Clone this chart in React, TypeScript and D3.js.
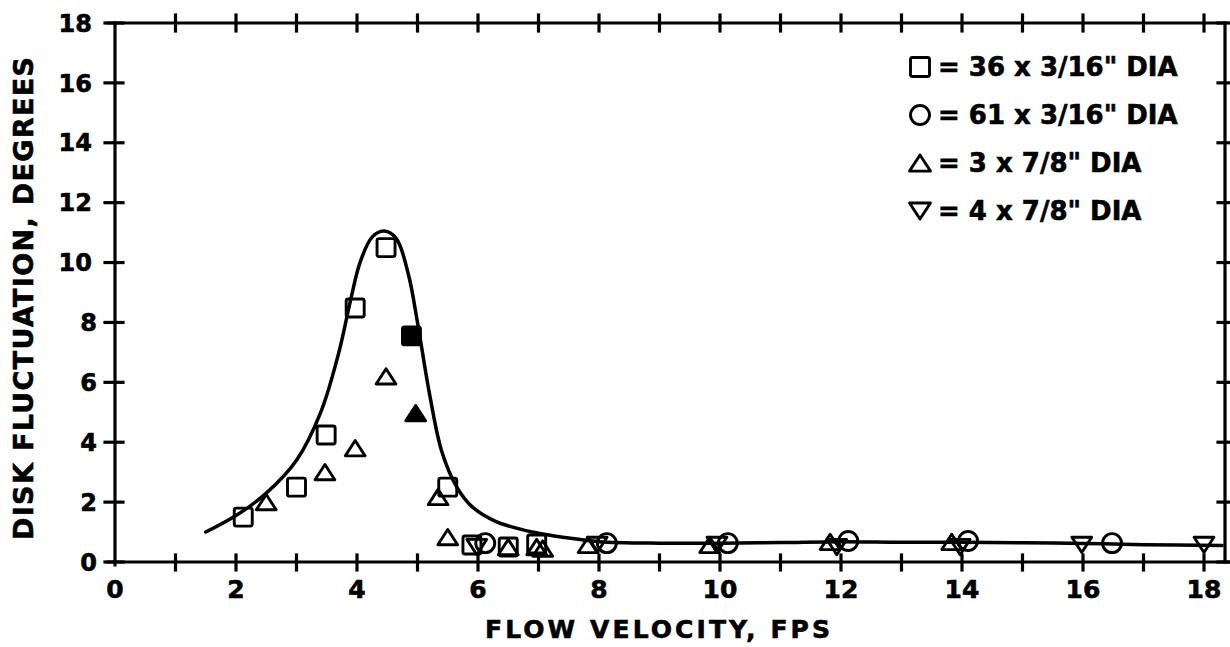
import React from "react";
import * as d3 from "d3";

// ---- data ----
const squareX = [2.12, 3.0, 3.49, 3.97, 4.48, 5.5, 5.9, 6.5, 6.97];
const squareY = [1.5, 2.5, 4.24, 8.48, 10.5, 2.5, 0.57, 0.5, 0.6];
const filledSquareX = [4.9];
const filledSquareY = [7.55];

const circleX = [6.12, 8.13, 10.13, 12.12, 14.1, 16.48];
const circleY = [0.63, 0.63, 0.63, 0.7, 0.7, 0.63];

const triangleX = [2.5, 3.47, 3.97, 4.48, 5.34, 5.5, 6.5, 6.97, 7.07, 7.82, 9.83, 11.82, 13.83];
const triangleY = [2.0, 3.0, 3.8, 6.2, 2.17, 0.83, 0.5, 0.5, 0.45, 0.57, 0.57, 0.67, 0.67];
const filledTriangleX = [4.97];
const filledTriangleY = [4.97];

const invTriangleX = [5.98, 7.97, 9.95, 11.93, 13.97, 15.98, 18.0];
const invTriangleY = [0.5, 0.57, 0.57, 0.5, 0.5, 0.57, 0.57];

const curveX = [1.5, 2.0, 2.5, 3.0, 3.4, 3.7, 3.9, 4.05, 4.25, 4.45, 4.65, 4.85, 5.0, 5.2, 5.4, 5.65, 5.9, 6.3, 6.9, 7.5, 8.0, 9, 10, 11, 12, 13, 14, 15, 16, 17, 18.3];
const curveY = [1.0, 1.55, 2.3, 3.4, 5.0, 7.0, 8.8, 10.0, 10.85, 11.05, 10.8, 9.6, 8.0, 5.6, 3.7, 2.5, 1.85, 1.35, 1.0, 0.8, 0.68, 0.63, 0.63, 0.65, 0.68, 0.66, 0.66, 0.64, 0.62, 0.58, 0.55];

const xTickLabels = ["0", "2", "4", "6", "8", "10", "12", "14", "16", "18"];
const yTickLabels = ["0", "2", "4", "6", "8", "10", "12", "14", "16", "18"];
const legendLabels = ['= 36 x 3/16" DIA', '= 61 x 3/16" DIA', '= 3 x 7/8" DIA', '= 4 x 7/8" DIA'];
const legendShapes = ["square", "circle", "triangle", "invtriangle"];

const xTitle = "FLOW VELOCITY, FPS";
const yTitle = "DISK FLUCTUATION, DEGREES";

const W = 1230;
const H = 647;
const FONT = "'DejaVu Sans', 'Liberation Sans', Arial, sans-serif";

function Marker({ shape, cx, cy, size, filled }: { shape: string; cx: number; cy: number; size: number; filled?: boolean }) {
  const fill = filled ? "#000" : "none";
  const sw = 2.9;
  if (shape === "square") {
    return <rect x={cx - size / 2} y={cy - size / 2} width={size} height={size} rx={2} fill={fill} stroke="#000" strokeWidth={sw} />;
  }
  if (shape === "circle") {
    return <circle cx={cx} cy={cy} r={size / 2} fill={fill} stroke="#000" strokeWidth={sw} />;
  }
  const w = size * 1.1;
  const h = size * 0.85;
  if (shape === "triangle") {
    const p = `M${cx},${cy - h / 2} L${cx + w / 2},${cy + h / 2} L${cx - w / 2},${cy + h / 2} Z`;
    return <path d={p} fill={fill} stroke="#000" strokeWidth={sw} strokeLinejoin="round" />;
  }
  const p = `M${cx},${cy + h / 2} L${cx + w / 2},${cy - h / 2} L${cx - w / 2},${cy - h / 2} Z`;
  return <path d={p} fill={fill} stroke="#000" strokeWidth={sw} strokeLinejoin="round" />;
}

export default function App() {
  const x = d3.scaleLinear().domain([0, 18]).range([115, 1204]);
  const y = d3.scaleLinear().domain([0, 18]).range([562, 23]);

  const frameRight = 1225;
  const xTop = y(18);
  const xBottom = y(0);

  const line = d3
    .line<number>()
    .x((_, i) => x(curveX[i]))
    .y((d) => y(d))
    .curve(d3.curveCatmullRom.alpha(0.5));
  const curvePath = line(curveY) || "";

  const minorX = d3.range(1, 19);
  const yTicks = yTickLabels.map((t) => +t);

  const mSize = 18;
  const textStroke = { stroke: "#000", strokeWidth: 0.6 };

  return (
    <svg width={W} height={H} style={{ position: "absolute", left: 0, top: 0, background: "#fff" }}>
      <rect x={0} y={0} width={W} height={H} fill="#fff" />
      {/* frame */}
      <g stroke="#000" strokeWidth={3.2} strokeLinecap="square">
        <line x1={x(0)} y1={xTop} x2={x(0)} y2={xBottom + 3} />
        <line x1={x(0) - 7} y1={xTop} x2={frameRight} y2={xTop} />
        <line x1={frameRight} y1={xTop} x2={frameRight} y2={xBottom} />
        <line x1={x(0) - 7} y1={xBottom} x2={W} y2={xBottom} />
        {minorX.map((v) => (
          <line key={"bt" + v} x1={x(v)} y1={xBottom - 7} x2={x(v)} y2={xBottom + 8} />
        ))}
        {minorX.map((v) => (
          <line key={"tt" + v} x1={x(v)} y1={xTop - 8} x2={x(v)} y2={xTop + 8} />
        ))}
        {yTicks.map((v) => (
          <line key={"lt" + v} x1={x(0) - 10} y1={y(v)} x2={x(0) + 8} y2={y(v)} />
        ))}
        {yTicks.map((v) => (
          <line key={"rt" + v} x1={frameRight - 7} y1={y(v)} x2={W} y2={y(v)} />
        ))}
      </g>

      {/* tick labels */}
      <g fontFamily={FONT} fontWeight="bold" fill="#000" {...textStroke}>
        {yTickLabels.map((t) => (
          <text key={"yl" + t} x={t.length > 1 ? 92 : 97} y={y(+t)} dy="0.36em" fontSize={24} textAnchor="end">
            {t}
          </text>
        ))}
        {xTickLabels.map((t) => (
          <text key={"xl" + t} x={x(+t)} y={598} fontSize={25} textAnchor="middle">
            {t}
          </text>
        ))}
      </g>

      {/* axis titles */}
      <text
        x={485}
        y={638}
        fontFamily={FONT}
        fontWeight="bold"
        fontSize={25}
        textLength={345}
        lengthAdjust="spacing"
        {...textStroke}
      >
        {xTitle}
      </text>
      <text
        transform="translate(33,540) rotate(-90)"
        x={0}
        y={0}
        fontFamily={FONT}
        fontWeight="bold"
        fontSize={27}
        textLength={483}
        lengthAdjust="spacing"
        {...textStroke}
      >
        {yTitle}
      </text>

      {/* fitted curve */}
      <path d={curvePath} fill="none" stroke="#000" strokeWidth={3.5} strokeLinecap="round" />

      {/* markers */}
      {squareX.map((v, i) => (
        <Marker key={"s" + i} shape="square" cx={x(v)} cy={y(squareY[i])} size={mSize} />
      ))}
      {filledSquareX.map((v, i) => (
        <Marker key={"fs" + i} shape="square" cx={x(v)} cy={y(filledSquareY[i])} size={mSize} filled />
      ))}
      {circleX.map((v, i) => (
        <Marker key={"c" + i} shape="circle" cx={x(v)} cy={y(circleY[i])} size={mSize + 1} />
      ))}
      {triangleX.map((v, i) => (
        <Marker key={"t" + i} shape="triangle" cx={x(v)} cy={y(triangleY[i])} size={mSize} />
      ))}
      {filledTriangleX.map((v, i) => (
        <Marker key={"ft" + i} shape="triangle" cx={x(v)} cy={y(filledTriangleY[i])} size={mSize} filled />
      ))}
      {invTriangleX.map((v, i) => (
        <Marker key={"it" + i} shape="invtriangle" cx={x(v)} cy={y(invTriangleY[i])} size={mSize} />
      ))}

      {/* legend */}
      {legendLabels.map((lab, i) => {
        const cy = 67 + i * 48;
        return (
          <g key={"lg" + i}>
            <Marker shape={legendShapes[i]} cx={920} cy={cy} size={19} />
            <text x={938} y={cy} dy="0.36em" fontFamily={FONT} fontWeight="bold" fontSize={26} fill="#000" {...textStroke}>
              {lab}
            </text>
          </g>
        );
      })}
    </svg>
  );
}
